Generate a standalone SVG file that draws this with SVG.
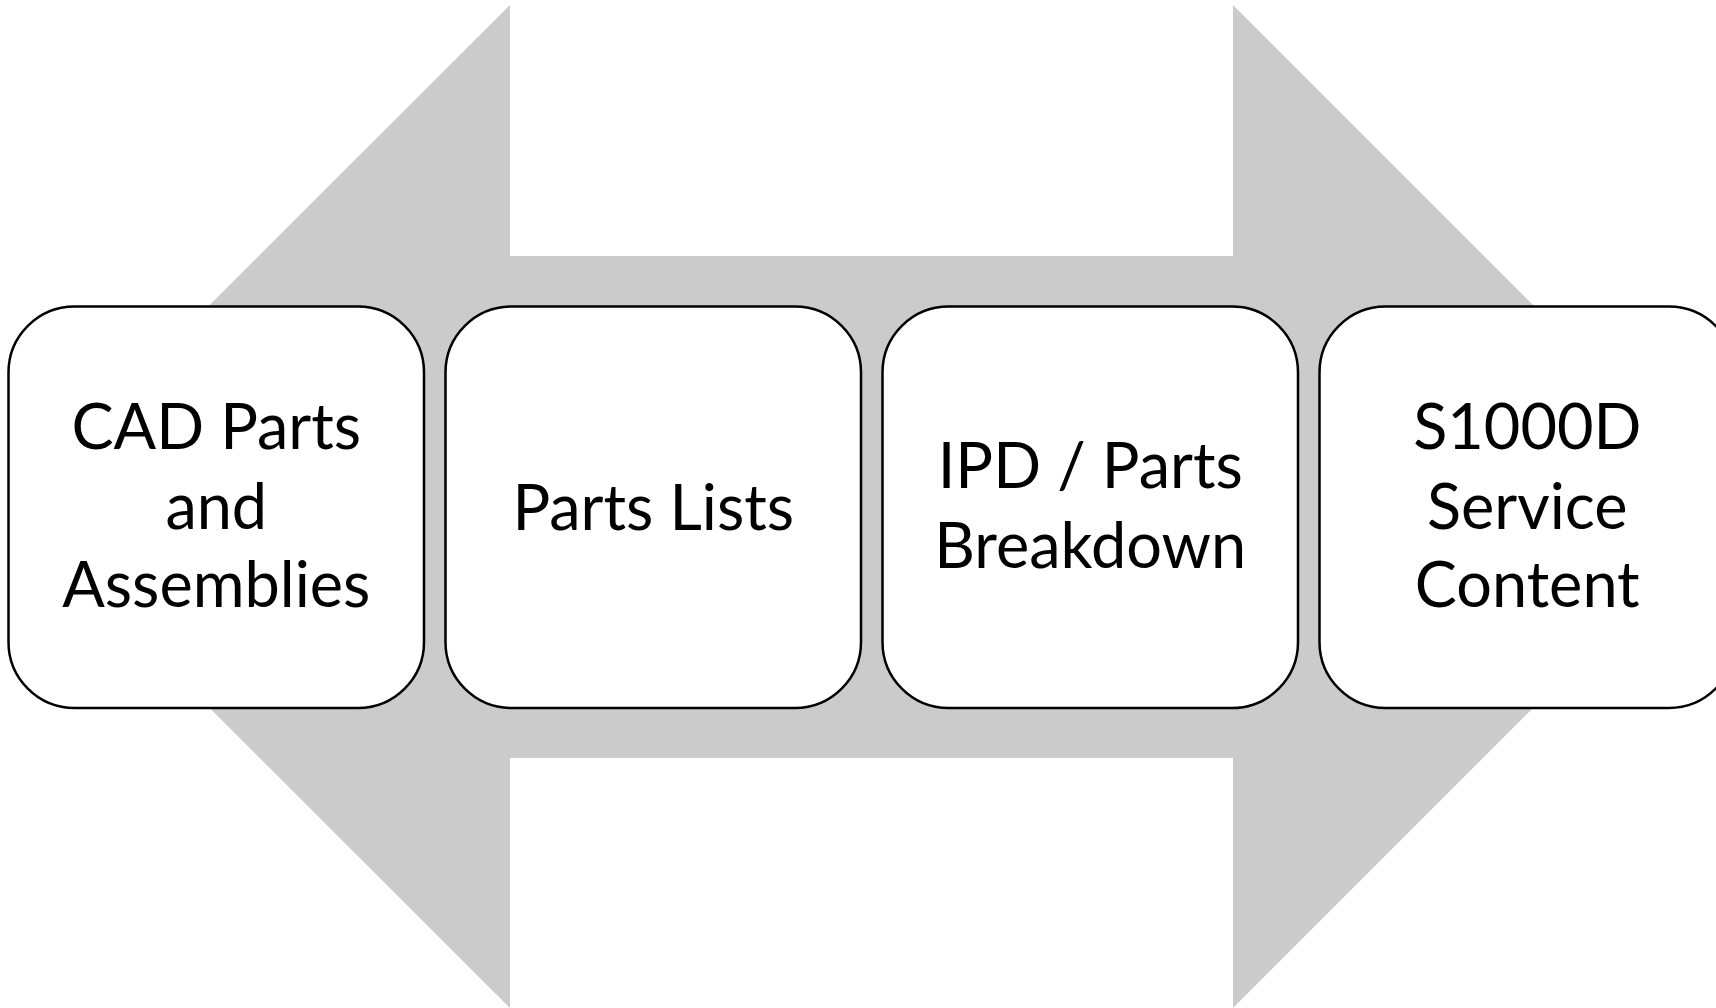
<svg xmlns="http://www.w3.org/2000/svg" width="1716" height="1008" viewBox="0 0 1716 1008">
<style>
.box{fill:#ffffff;stroke:#000000;stroke-width:2.5}
.lbl{font-family:Lato,"Open Sans","Liberation Sans",sans-serif;font-size:63px;fill:#000000;text-anchor:middle}
</style>
<rect width="1716" height="1008" fill="#ffffff"/>
<g id="connectors">
<polygon id="double-arrow" fill="#cbcbcb" points="8,506.5 510,5 510,256 1233,256 1233,5 1734.5,506.5 1233,1008 1233,758 510,758 510,1008"/>
</g>
<g id="node1">
<rect class="box" x="8.5" y="306.5" width="415.5" height="401.5" rx="66" ry="66"/>
<text class="lbl" x="216.25" y="449">CAD Parts</text>
<text class="lbl" x="216.25" y="528.5">and</text>
<text class="lbl" x="216.25" y="607">Assemblies</text>
</g>
<g id="node2">
<rect class="box" x="445.5" y="306.5" width="415.5" height="401.5" rx="66" ry="66"/>
<text class="lbl" x="653.25" y="530">Parts Lists</text>
</g>
<g id="node3">
<rect class="box" x="882.5" y="306.5" width="415.5" height="401.5" rx="66" ry="66"/>
<text class="lbl" x="1090.25" y="488">IPD / Parts</text>
<text class="lbl" x="1090.25" y="568">Breakdown</text>
</g>
<g id="node4">
<rect class="box" x="1319.5" y="306.5" width="415.5" height="401.5" rx="66" ry="66"/>
<text class="lbl" x="1527.25" y="449">S1000D</text>
<text class="lbl" x="1527.25" y="528.5">Service</text>
<text class="lbl" x="1527.25" y="607">Content</text>
</g>
</svg>
